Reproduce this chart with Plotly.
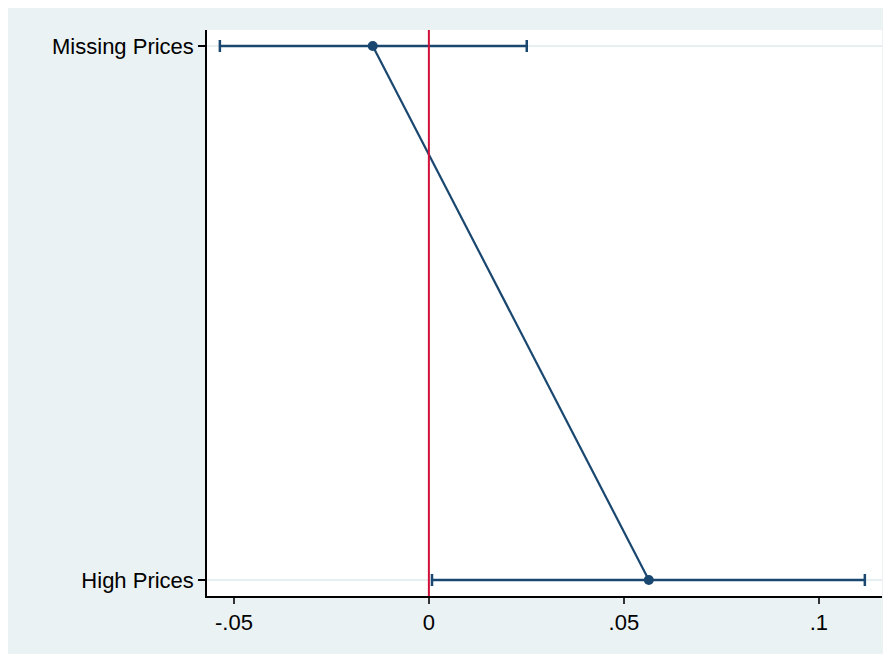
import plotly.graph_objects as go

categories = ["High Prices", "Missing Prices"]
estimates = [0.0564, -0.0144]
ci_low = [0.0008, -0.0536]
ci_high = [0.1118, 0.0251]
x_ticks = [-0.05, 0, 0.05, 0.1]
x_tick_labels = ["-.05", "0", ".05", ".1"]

navy = "#1a476f"
bg = "#eaf2f3"

ypos = list(range(len(categories)))
fig = go.Figure()
fig.add_trace(go.Scatter(
    x=estimates, y=ypos, mode="lines+markers",
    line=dict(color=navy, width=2.2),
    marker=dict(color=navy, size=10, symbol="circle"),
    error_x=dict(type="data", symmetric=False,
                 array=[h - e for h, e in zip(ci_high, estimates)],
                 arrayminus=[e - l for e, l in zip(estimates, ci_low)],
                 color=navy, thickness=2.5, width=6),
    showlegend=False,
))

fig.add_shape(type="line", xref="x", yref="paper", x0=0, x1=0, y0=0, y1=1,
              line=dict(color="#d0103a", width=2), layer="above")

fig.update_layout(
    width=883, height=646,
    margin=dict(l=199, r=9, t=22, b=58),
    paper_bgcolor=bg, plot_bgcolor="white",
    font=dict(family="Liberation Sans, Arial, sans-serif", size=22, color="black"),
    xaxis=dict(range=[-0.0569, 0.1162], tickvals=x_ticks, ticktext=x_tick_labels,
               showgrid=False, zeroline=False, showline=True, linecolor="black",
               linewidth=1.5, ticks="outside", ticklen=6, tickcolor="#333333",
               tickwidth=1.5),
    yaxis=dict(range=[-0.03, 1.03], tickvals=ypos, ticktext=categories,
               showgrid=True, gridcolor="#e8eff1", gridwidth=2, zeroline=False,
               showline=True, linecolor="black", linewidth=1.5,
               ticks="outside", ticklen=7, tickcolor="black", tickwidth=1.5),
)

fig.write_html("out.html")
